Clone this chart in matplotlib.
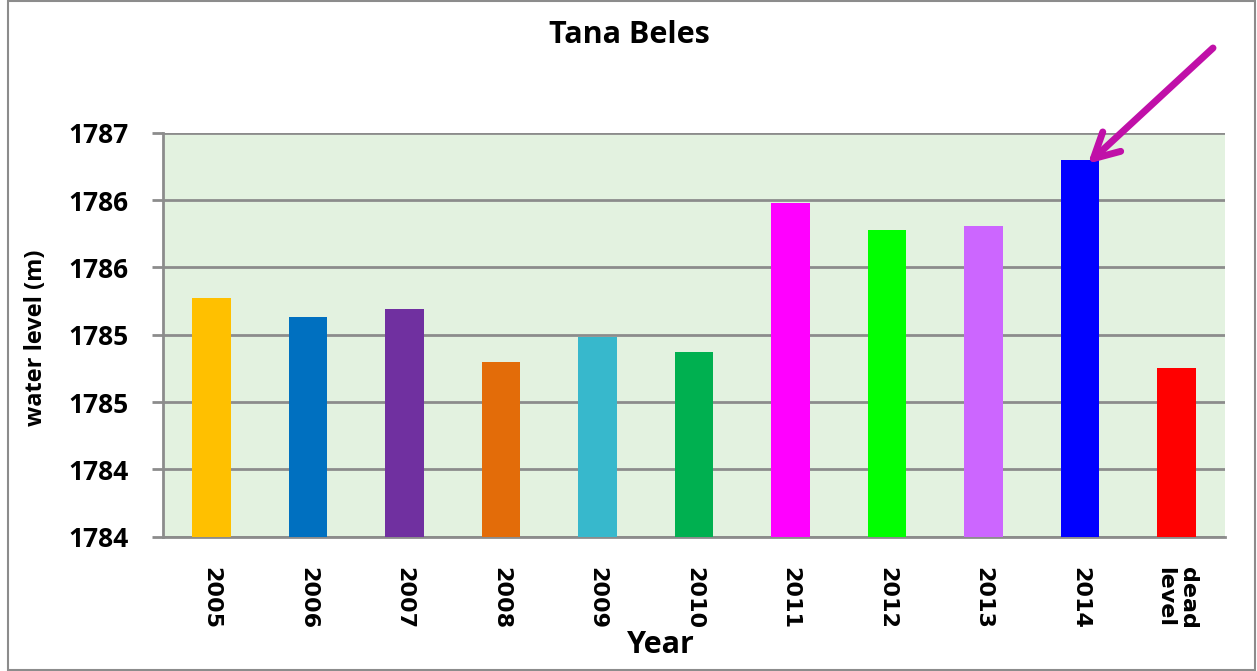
import matplotlib
matplotlib.use("Agg")
import matplotlib.pyplot as plt
from matplotlib.patches import Rectangle

categories = ["2005", "2006", "2007", "2008", "2009", "2010",
              "2011", "2012", "2013", "2014", "dead\nlevel"]
water_level = [1785.77, 1785.63, 1785.69, 1785.30, 1785.48, 1785.37,
               1786.48, 1786.28, 1786.31, 1786.80, 1785.25]
bar_colors = ["#FFC000", "#0070C0", "#7030A0", "#E36C09", "#37B8CC", "#00B050",
              "#FF00FF", "#00FF00", "#CC66FF", "#0000FF", "#FF0000"]
ytick_values = [1784.0, 1784.5, 1785.0, 1785.5, 1786.0, 1786.5, 1787.0]
ytick_labels = ["1784", "1784", "1785", "1785", "1786", "1786", "1787"]

FONT = "Open Sans"

W, H = 1257, 671
fig = plt.figure(figsize=(W / 100, H / 100), dpi=100)
fig.patch.set_facecolor("white")

# outer chart border
fig.patches.append(Rectangle((8 / W, 1 / H), (1255 - 8) / W, (669) / H,
                             transform=fig.transFigure, fill=False,
                             edgecolor="#8C8C8C", linewidth=1.5))

ax = fig.add_axes([163 / W, (H - 536.7) / H, 1062 / W, 404 / H])
ax.set_facecolor("#E3F2E0")

x = list(range(len(categories)))
ax.bar(x, [v - ytick_values[0] for v in water_level], bottom=ytick_values[0],
       width=0.40, color=bar_colors, zorder=3)

ax.set_xlim(-0.5, len(categories) - 0.5)
ax.set_ylim(ytick_values[0], ytick_values[-1])
ax.set_yticks(ytick_values)
ax.set_yticklabels(ytick_labels, fontfamily=FONT, fontweight="bold", fontsize=19)
ax.set_xticks(x)
ax.set_xticklabels(categories, rotation=270, fontfamily="DejaVu Sans",
                   fontweight="bold", fontsize=16, va="top", ha="center",
                   multialignment="left")

ax.grid(axis="y", color="#8C8C8C", linewidth=2, zorder=1)
ax.set_axisbelow(True)
for s in ["top", "right"]:
    ax.spines[s].set_visible(False)
for s in ["left", "bottom"]:
    ax.spines[s].set_color("#8C8C8C")
    ax.spines[s].set_linewidth(2)
ax.tick_params(axis="y", direction="out", length=8, width=2, color="#8C8C8C", pad=17)
ax.tick_params(axis="x", length=0, pad=22)

fig.text(36 / W, 1 - 338 / H, "water level (m)", fontfamily=FONT, fontweight="bold",
         fontsize=17, rotation=90, ha="center", va="center")
fig.text(661 / W, 1 - 645 / H, "Year", fontfamily=FONT, fontweight="bold",
         fontsize=22, ha="center", va="center")
fig.text(629 / W, 1 - 35 / H, "Tana Beles", fontfamily=FONT, fontweight="bold",
         fontsize=22, ha="center", va="center")

ax.annotate("", xy=(9.08, 1786.77), xycoords="data",
            xytext=(1213 / W, 1 - 48 / H), textcoords="figure fraction",
            arrowprops=dict(arrowstyle="->,head_length=1.8,head_width=0.95",
                            color="#C010A8", linewidth=5, shrinkA=0, shrinkB=0,
                            capstyle="round", joinstyle="round"),
            annotation_clip=False)

fig.savefig("out.png", dpi=100, facecolor="white")
